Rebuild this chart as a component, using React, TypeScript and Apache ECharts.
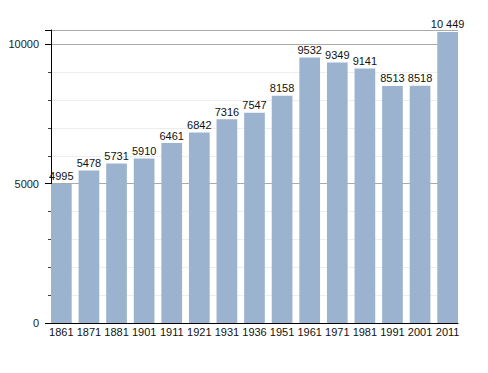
import React, { useEffect, useRef } from "react";
import * as echarts from "echarts";

const years = ["1861", "1871", "1881", "1901", "1911", "1921", "1931", "1936", "1951", "1961", "1971", "1981", "1991", "2001", "2011"];
const population = [4995, 5478, 5731, 5910, 6461, 6842, 7316, 7547, 8158, 9532, 9349, 9141, 8513, 8518, 10449];
const yMin = 0;
const yMax = 10520;
const yInterval = 5000;

const FONT = "Liberation Sans, Arial, sans-serif";

function fmt(v: number): string {
  const s = String(v);
  if (v >= 10000) return s.replace(/\B(?=(\d{3})+(?!\d))/g, " ");
  return s;
}

export default function App() {
  const ref = useRef<HTMLDivElement>(null);
  useEffect(() => {
    if (!ref.current) return;
    const chart = echarts.init(ref.current, null, { renderer: "svg" });
    chart.setOption({
      animation: false,
      textStyle: { fontFamily: FONT },
      grid: [
        { left: 47.55, right: 26.55, top: 30, bottom: 50 },
        { left: 51, right: 30, top: 30, bottom: 50 },
      ],
      xAxis: [
        {
          type: "category",
          gridIndex: 0,
          data: years,
          axisLine: { show: false },
          axisTick: { show: false },
          axisLabel: { fontSize: 11, color: "#111", margin: 3, fontFamily: FONT, interval: 0 },
        },
        {
          type: "category",
          gridIndex: 1,
          data: years,
          axisLine: { show: true, lineStyle: { color: "#000", width: 1 } },
          axisTick: { show: false },
          axisLabel: { show: false },
        },
      ],
      yAxis: [
        {
          type: "value",
          gridIndex: 0,
          min: yMin,
          max: yMax,
          interval: yInterval,
          show: false,
          splitLine: { show: false },
        },
        {
          type: "value",
          gridIndex: 1,
          min: yMin,
          max: yMax,
          interval: yInterval,
          axisLine: { show: true, lineStyle: { color: "#000", width: 1 } },
          axisTick: { show: true, length: 6, lineStyle: { color: "#000", width: 1 } },
          minorTick: { show: true, splitNumber: 5, length: 3, lineStyle: { color: "#444", width: 1 } },
          splitLine: { show: true, lineStyle: { color: "#aaaaaa", width: 1 } },
          minorSplitLine: { show: true, lineStyle: { color: "#eeeeee", width: 1 } },
          axisLabel: {
            fontSize: 11,
            color: "#222",
            margin: 12,
            fontFamily: FONT,
            showMaxLabel: false,
            formatter: (v: number) => String(v),
          },
        },
      ],
      series: [
        {
          type: "bar",
          xAxisIndex: 0,
          yAxisIndex: 0,
          data: population,
          barCategoryGap: "25%",
          itemStyle: { color: "#9cb3cf" },
          label: {
            show: true,
            position: "top",
            distance: 2,
            fontSize: 11,
            color: "#111",
            fontFamily: FONT,
            formatter: (p: any) => fmt(p.value),
          },
        },
      ],
    });
    return () => chart.dispose();
  }, []);
  return (
    <div
      ref={ref}
      style={{ position: "fixed", left: 0, top: 0, width: 488, height: 373, background: "#fff" }}
    />
  );
}
